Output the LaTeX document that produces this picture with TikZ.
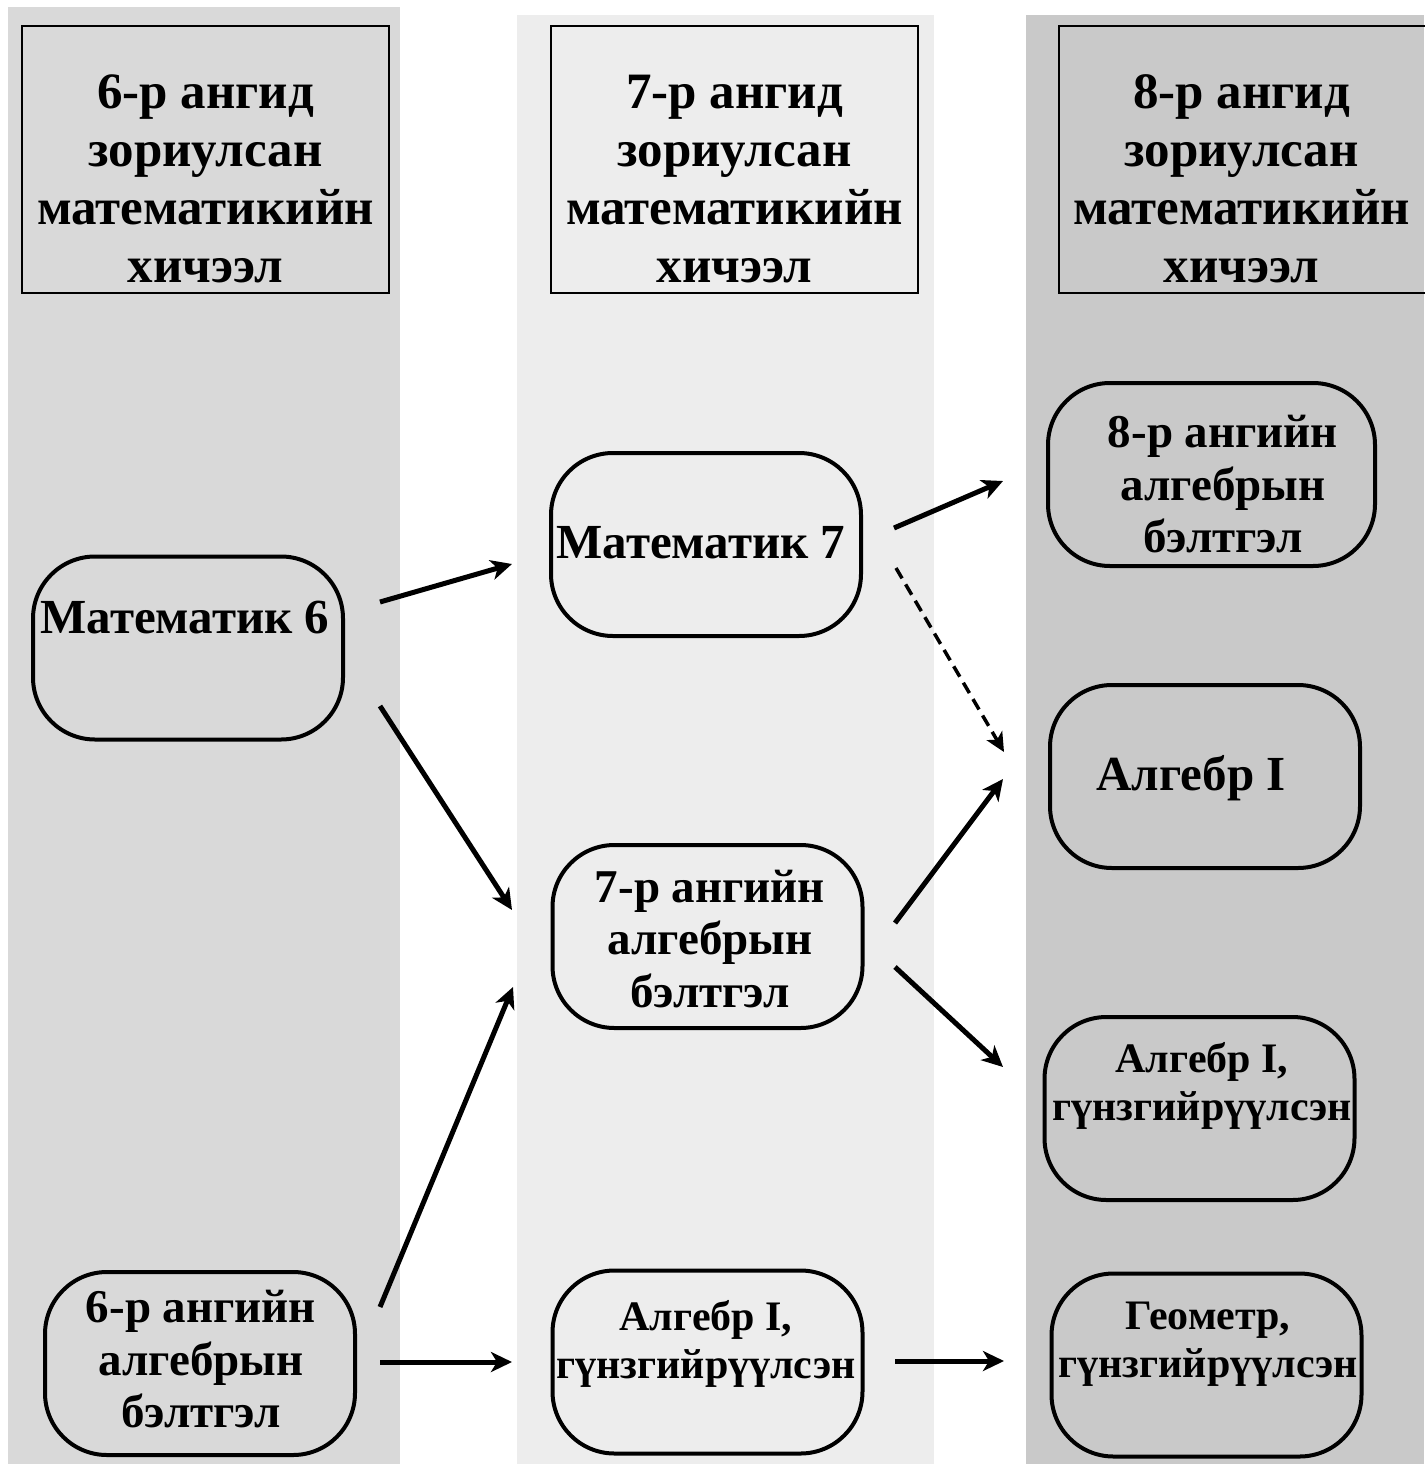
\documentclass[tikz,border=0pt]{standalone}
\usepackage{fontspec}
\setmainfont{Liberation Serif}
\usetikzlibrary{arrows.meta}
\definecolor{colA}{HTML}{D9D9D9}
\definecolor{colB}{HTML}{EDEDED}
\definecolor{colC}{HTML}{C9C9C9}
\begin{document}
\begin{tikzpicture}[x=1pt,y=-1pt,
  hdr/.style={draw, line width=1.6pt, minimum width=367pt, minimum height=267pt, inner sep=0pt},
  rbox/.style={draw, line width=4pt, rounded corners=62pt, minimum width=310pt, minimum height=183pt, inner sep=0pt},
  htext/.style={font=\bfseries\fontsize{51}{58}\selectfont, align=center, inner sep=0pt},
  mtext/.style={font=\bfseries\fontsize{49}{53}\selectfont, align=center, inner sep=0pt},
  btext/.style={font=\bfseries\fontsize{47}{52.5}\selectfont, align=center, inner sep=0pt},
  stext/.style={font=\bfseries\fontsize{42}{48}\selectfont, align=center, inner sep=0pt},
  arr/.style={line width=5pt, -{Stealth[length=21pt,width=20pt,inset=6pt]}},
  darr/.style={line width=3.5pt, dash pattern=on 12pt off 7pt, -{Stealth[length=19pt,width=18pt,inset=5pt]}}
]
\useasboundingbox (0,0) rectangle (1424,1464);
\fill[white] (0,0) rectangle (1424,1464);
% column backgrounds
\fill[colA] (8,7) rectangle (400,1464);
\fill[colB] (517,15) rectangle (934,1464);
\fill[colC] (1026,15) rectangle (1424,1464);

% headers
\node[hdr] (h6) at (205.5,159.5) {};
\node[hdr] (h7) at (734.5,159.5) {};
\node[hdr] (h8) at (1242.5,159.5) {};
\node[htext] (t6) at (205.5,179) {6-р ангид\\зориулсан\\математикийн\\хичээл};
\node[htext] (t7) at (734.5,179) {7-р ангид\\зориулсан\\математикийн\\хичээл};
\node[htext] (t8) at (1241.5,179) {8-р ангид\\зориулсан\\математикийн\\хичээл};

% rounded boxes
\node[rbox] (m6) at (188,648) {};
\node[rbox] (p6) at (200,1363.5) {};
\node[rbox] (m7) at (706,544.5) {};
\node[rbox] (p7) at (707.5,936.5) {};
\node[rbox] (a7) at (707.5,1362) {};
\node[rbox, minimum width=327pt] (p8) at (1211.5,474.5) {};
\node[rbox] (al8) at (1205,776.5) {};
\node[rbox] (a8) at (1199.5,1108.5) {};
\node[rbox] (g8) at (1206.5,1365) {};

% texts
\node[mtext] (m6t) at (185,617.5) {Математик 6};
\node[btext] (p6t) at (201,1359.5) {6-р ангийн\\алгебрын\\бэлтгэл};
\node[mtext] (m7t) at (701,543) {Математик 7};
\node[btext] (p7t) at (710,939) {7-р ангийн\\алгебрын\\бэлтгэл};
\node[stext] (a7t) at (706,1343.5) {Алгебр I,\\гүнзгийрүүлсэн};
\node[btext] (p8t) at (1223,484.5) {8-р ангийн\\алгебрын\\бэлтгэл};
\node[mtext] (al8t) at (1191,778) {Алгебр I};
\node[stext] (a8t) at (1202,1086) {Алгебр I,\\гүнзгийрүүлсэн};
\node[stext] (g8t) at (1208,1344) {Геометр,\\гүнзгийрүүлсэн};

% arrow end points
\coordinate (s1) at (380,602);  \coordinate (e1) at (512,564);
\coordinate (s2) at (380,706);  \coordinate (e2) at (512,910);
\coordinate (s3) at (380,1307); \coordinate (e3) at (513,987);
\coordinate (s4) at (380,1362); \coordinate (e4) at (512,1362);
\coordinate (s5) at (894,528);  \coordinate (e5) at (1003,481);
\coordinate (s6) at (896,568);  \coordinate (e6) at (1004,752);
\coordinate (s7) at (895,923);  \coordinate (e7) at (1003,779);
\coordinate (s8) at (895,967);  \coordinate (e8) at (1003,1067);
\coordinate (s9) at (895,1361); \coordinate (e9) at (1004,1361);

\draw[arr] (s1) -- (e1);
\draw[arr] (s2) -- (e2);
\draw[arr] (s3) -- (e3);
\draw[arr] (s4) -- (e4);
\draw[arr] (s5) -- (e5);
\draw[darr] (s6) -- (e6);
\draw[arr] (s7) -- (e7);
\draw[arr] (s8) -- (e8);
\draw[arr] (s9) -- (e9);
\end{tikzpicture}
\end{document}
